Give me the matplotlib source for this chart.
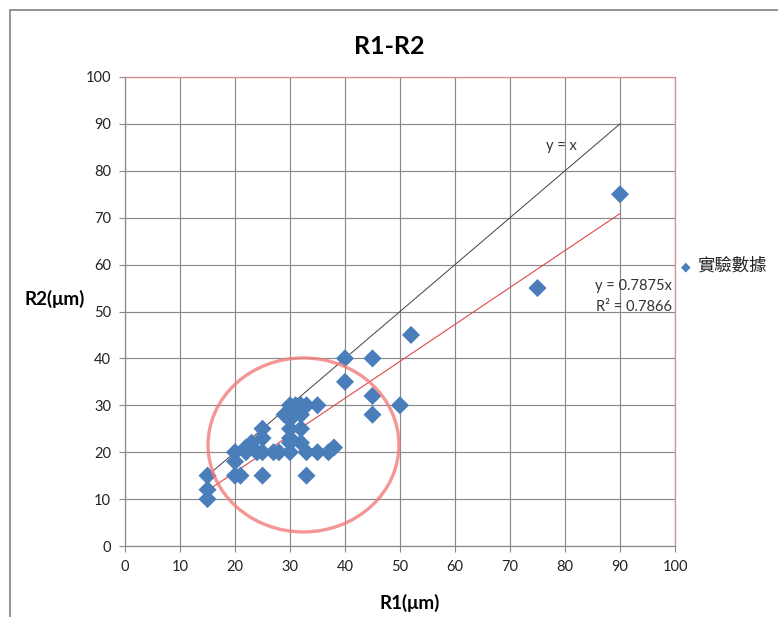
import matplotlib
matplotlib.use("Agg")
import matplotlib.pyplot as plt
from matplotlib.patches import Ellipse, Rectangle
import numpy as np

# Measured radii (μm)
r1 = [15, 15, 15, 20, 20, 20, 21, 22, 22, 23, 24, 25, 25, 25, 25, 27, 28, 29,
      30, 30, 30, 30, 30, 30, 30, 31, 31, 32, 32, 32, 32, 33, 33, 33, 35, 35,
      37, 38, 40, 40, 45, 45, 45, 50, 52, 75, 90]
r2 = [15, 12, 10, 20, 18, 15, 15, 20, 21, 22, 20, 25, 23, 20, 15, 20, 20, 28,
      30, 28, 27, 25, 23, 22, 20, 30, 29, 28, 30, 25, 22, 30, 20, 15, 30, 20,
      20, 21, 40, 35, 40, 32, 28, 30, 45, 55, 75]

fit_slope = 0.7875
fit_r2 = 0.7866
line_range = [15, 90]
ticks = list(range(0, 101, 10))

title = "R1-R2"
xlabel = "R1(μm)"
ylabel = "R2(μm)"
series_name = "實驗數據"

plt.rcParams['font.family'] = ['Lato', 'DejaVu Sans']

W, H = 778, 617
fig = plt.figure(figsize=(W / 100, H / 100), dpi=100)
fig.patch.set_facecolor('white')

# outer chart frame
fig.add_artist(Rectangle((10 / W, -0.1), 1.2, 1 - 10 / H + 0.1,
                         transform=fig.transFigure, fill=False,
                         edgecolor='#8a8a8a', lw=1.3))

left, right, top, bottom = 125, 675, 77, 546
ax = fig.add_axes([left / W, 1 - bottom / H, (right - left) / W, (bottom - top) / H])

ax.set_xlim(0, 100)
ax.set_ylim(0, 100)
ax.set_xticks(ticks)
ax.set_yticks(ticks)
ax.grid(True, color='#8a8a8a', lw=0.85)
ax.set_axisbelow(True)

for s in ['left', 'bottom']:
    ax.spines[s].set_color('#8a8a8a')
    ax.spines[s].set_linewidth(0.9)
for s in ['top', 'right']:
    ax.spines[s].set_color('#d98c8c')
    ax.spines[s].set_linewidth(0.9)

ax.tick_params(direction='out', length=4, width=0.8, color='#8a8a8a',
               labelsize=10.5, labelcolor='#222222', pad=6)

# reference line y = x and fitted line through the origin
xl = np.array(line_range, dtype=float)
ax.plot(xl, xl, color='#404040', lw=0.7, zorder=2)
ax.plot(xl, fit_slope * xl, color='#e04848', lw=0.8, zorder=2)

ax.scatter(r1, r2, marker='D', s=85, color='#4a7ebb', edgecolors='none',
           zorder=3)

ax.add_patch(Ellipse((32.45, 21.55), width=34.7, height=37.1, fill=False,
                     edgecolor='#f27c7c', alpha=0.8, lw=2.4, zorder=4))

ax.text(79.3, 85.3, "y = x", fontsize=10.5, color='#333333',
        ha='center', va='center')
ax.text(99.5, 55.5, f"y = {fit_slope}x", fontsize=10.5, color='#333333',
        ha='right', va='center')
ax.text(99.5, 51.0, f"R² = {fit_r2}", fontsize=10.5, color='#333333',
        ha='right', va='center')

fig.text(389 / W, 1 - 47 / H, title, fontsize=18, fontweight='bold',
         ha='center', va='center')
fig.text(410 / W, 1 - 603 / H, xlabel, fontsize=13.5, fontweight='bold',
         ha='center', va='center')
fig.text(55 / W, 1 - 299 / H, ylabel, fontsize=13.5, fontweight='bold',
         ha='center', va='center')

# legend entry
fig.text(686 / W, 1 - 267 / H, "◆", fontsize=9, color='#4a7ebb',
         ha='center', va='center', family=['DejaVu Sans'])
fig.text(697 / W, 1 - 266 / H, series_name, fontsize=12.5, color='#222222',
         ha='left', va='center', family=['Noto Sans CJK TC', 'DejaVu Sans'])

fig.savefig("out.png", dpi=100)
